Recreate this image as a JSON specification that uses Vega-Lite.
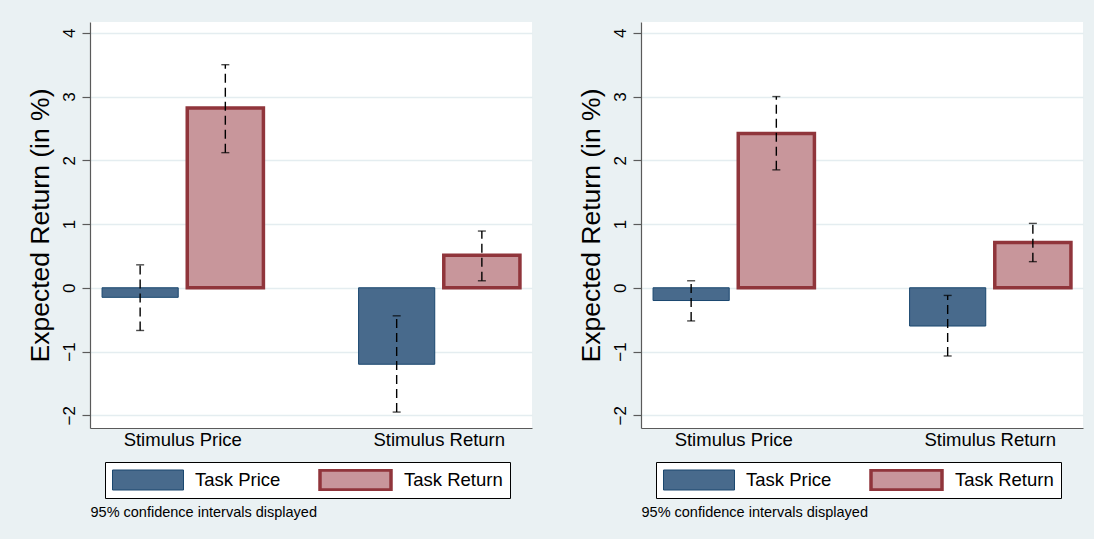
{
  "$schema": "https://vega.github.io/schema/vega-lite/v6.json",
  "background": "#eaf1f3",
  "padding": {"left": 27, "top": 22, "right": 12, "bottom": 20},
  "spacing": 46,
  "datasets": {
    "d": [
      {"panel": "A", "stimulus": "Stimulus Price", "task": "Task Price", "mean": -0.15, "lo": -0.67, "hi": 0.36},
      {"panel": "A", "stimulus": "Stimulus Price", "task": "Task Return", "mean": 2.82, "lo": 2.12, "hi": 3.50},
      {"panel": "A", "stimulus": "Stimulus Return", "task": "Task Price", "mean": -1.20, "lo": -1.95, "hi": -0.44},
      {"panel": "A", "stimulus": "Stimulus Return", "task": "Task Return", "mean": 0.51, "lo": 0.11, "hi": 0.89},
      {"panel": "B", "stimulus": "Stimulus Price", "task": "Task Price", "mean": -0.20, "lo": -0.52, "hi": 0.11},
      {"panel": "B", "stimulus": "Stimulus Price", "task": "Task Return", "mean": 2.42, "lo": 1.85, "hi": 3.00},
      {"panel": "B", "stimulus": "Stimulus Return", "task": "Task Price", "mean": -0.60, "lo": -1.07, "hi": -0.12},
      {"panel": "B", "stimulus": "Stimulus Return", "task": "Task Return", "mean": 0.71, "lo": 0.41, "hi": 1.01}
    ]
  },
  "hconcat": [
    {
      "width": 442, "height": 406,
      "data": {"name": "d"},
      "transform": [{"filter": "datum.panel == 'A'"}],
      "layer": [
        {
          "mark": {"type": "bar"},
          "encoding": {
            "x": {"field": "stimulus", "type": "nominal", "title": "95% confidence intervals displayed", "scale": {"paddingInner": 0.371, "paddingOuter": 0.047}},
            "xOffset": {"field": "task", "type": "nominal", "scale": {"paddingInner": 0.106, "paddingOuter": 0}},
            "y": {"field": "mean", "type": "quantitative", "title": "Expected Return (in %)", "scale": {"domain": [-2.2, 4.17], "nice": false, "zero": false}, "axis": {"values": [-2, -1, 0, 1, 2, 3, 4], "format": "d"}},
            "fill": {"field": "task", "type": "nominal", "scale": {"domain": ["Task Price", "Task Return"], "range": ["#486a8c", "#c8969b"]}, "legend": {"title": null, "orient": "none", "legendX": 15, "legendY": 440, "direction": "horizontal"}},
            "stroke": {"field": "task", "type": "nominal", "scale": {"domain": ["Task Price", "Task Return"], "range": ["#1a476f", "#90353b"]}, "legend": {"title": null, "orient": "none", "legendX": 15, "legendY": 440, "direction": "horizontal"}},
            "strokeWidth": {"field": "task", "type": "nominal", "scale": {"domain": ["Task Price", "Task Return"], "range": [1, 3.5]}, "legend": {"title": null, "orient": "none", "legendX": 15, "legendY": 440, "direction": "horizontal"}}
          }
        },
        {
          "mark": {"type": "rule", "color": "black", "strokeWidth": 1.4, "strokeDash": [9, 5]},
          "encoding": {
            "x": {"field": "stimulus", "type": "nominal", "title": "95% confidence intervals displayed"},
            "xOffset": {"field": "task", "type": "nominal"},
            "y": {"field": "lo", "type": "quantitative", "title": "Expected Return (in %)", "axis": {"values": [-2, -1, 0, 1, 2, 3, 4], "format": "d"}},
            "y2": {"field": "hi"}
          }
        },
        {
          "mark": {"type": "tick", "color": "black", "size": 8, "thickness": 1.4},
          "encoding": {
            "x": {"field": "stimulus", "type": "nominal", "title": "95% confidence intervals displayed"},
            "xOffset": {"field": "task", "type": "nominal"},
            "y": {"field": "hi", "type": "quantitative", "title": "Expected Return (in %)", "axis": {"values": [-2, -1, 0, 1, 2, 3, 4], "format": "d"}}
          }
        },
        {
          "mark": {"type": "tick", "color": "black", "size": 8, "thickness": 1.4},
          "encoding": {
            "x": {"field": "stimulus", "type": "nominal", "title": "95% confidence intervals displayed"},
            "xOffset": {"field": "task", "type": "nominal"},
            "y": {"field": "lo", "type": "quantitative", "title": "Expected Return (in %)", "axis": {"values": [-2, -1, 0, 1, 2, 3, 4], "format": "d"}}
          }
        }
      ]
    },
    {
      "width": 442, "height": 406,
      "data": {"name": "d"},
      "transform": [{"filter": "datum.panel == 'B'"}],
      "layer": [
        {
          "mark": {"type": "bar"},
          "encoding": {
            "x": {"field": "stimulus", "type": "nominal", "title": "95% confidence intervals displayed", "scale": {"paddingInner": 0.371, "paddingOuter": 0.047}},
            "xOffset": {"field": "task", "type": "nominal", "scale": {"paddingInner": 0.106, "paddingOuter": 0}},
            "y": {"field": "mean", "type": "quantitative", "title": "Expected Return (in %)", "scale": {"domain": [-2.2, 4.17], "nice": false, "zero": false}, "axis": {"values": [-2, -1, 0, 1, 2, 3, 4], "format": "d"}},
            "fill": {"field": "task", "type": "nominal", "scale": {"domain": ["Task Price", "Task Return"], "range": ["#486a8c", "#c8969b"]}, "legend": {"title": null, "orient": "none", "legendX": 15, "legendY": 440, "direction": "horizontal"}},
            "stroke": {"field": "task", "type": "nominal", "scale": {"domain": ["Task Price", "Task Return"], "range": ["#1a476f", "#90353b"]}, "legend": {"title": null, "orient": "none", "legendX": 15, "legendY": 440, "direction": "horizontal"}},
            "strokeWidth": {"field": "task", "type": "nominal", "scale": {"domain": ["Task Price", "Task Return"], "range": [1, 3.5]}, "legend": {"title": null, "orient": "none", "legendX": 15, "legendY": 440, "direction": "horizontal"}}
          }
        },
        {
          "mark": {"type": "rule", "color": "black", "strokeWidth": 1.4, "strokeDash": [9, 5]},
          "encoding": {
            "x": {"field": "stimulus", "type": "nominal", "title": "95% confidence intervals displayed"},
            "xOffset": {"field": "task", "type": "nominal"},
            "y": {"field": "lo", "type": "quantitative", "title": "Expected Return (in %)", "axis": {"values": [-2, -1, 0, 1, 2, 3, 4], "format": "d"}},
            "y2": {"field": "hi"}
          }
        },
        {
          "mark": {"type": "tick", "color": "black", "size": 8, "thickness": 1.4},
          "encoding": {
            "x": {"field": "stimulus", "type": "nominal", "title": "95% confidence intervals displayed"},
            "xOffset": {"field": "task", "type": "nominal"},
            "y": {"field": "hi", "type": "quantitative", "title": "Expected Return (in %)", "axis": {"values": [-2, -1, 0, 1, 2, 3, 4], "format": "d"}}
          }
        },
        {
          "mark": {"type": "tick", "color": "black", "size": 8, "thickness": 1.4},
          "encoding": {
            "x": {"field": "stimulus", "type": "nominal", "title": "95% confidence intervals displayed"},
            "xOffset": {"field": "task", "type": "nominal"},
            "y": {"field": "lo", "type": "quantitative", "title": "Expected Return (in %)", "axis": {"values": [-2, -1, 0, 1, 2, 3, 4], "format": "d"}}
          }
        }
      ]
    }
  ],
  "resolve": {"scale": {"x": "independent", "y": "independent", "fill": "independent", "stroke": "independent", "strokeWidth": "independent"}, "legend": {"fill": "independent", "stroke": "independent", "strokeWidth": "independent"}},
  "config": {
    "font": "Liberation Sans",
    "view": {"fill": "white", "stroke": null},
    "axisX": {
      "titleAnchor": "start", "titleAlign": "left", "titleFontSize": 14.5, "titleFontWeight": "normal", "titleColor": "black", "titlePadding": 57,
      "labelFontSize": 18.5, "labelColor": "black", "labelAngle": 0, "labelPadding": 2, "ticks": false, "grid": false,
      "domainColor": "#5a5a5a", "domainWidth": 1.2
    },
    "axisY": {
      "titleFontSize": 26.5, "titleFontWeight": "normal", "titleColor": "black", "titlePadding": 6,
      "labelFontSize": 17, "labelColor": "black", "labelAngle": 270, "labelAlign": "center", "labelBaseline": "bottom", "labelPadding": 4,
      "tickSize": 8, "tickColor": "#5a5a5a", "tickWidth": 1.2, "domainColor": "#5a5a5a", "domainWidth": 1.2,
      "grid": true, "gridColor": "#e4edf0", "gridWidth": 1.5
    },
    "legend": {
      "symbolType": "M-1,-1H6.1V1H-1Z", "symbolSize": 400, "labelFontSize": 18.5, "labelColor": "black", "labelOffset": 62,
      "columnPadding": 37, "padding": 7, "clipHeight": 22, "strokeColor": "black", "fillColor": "white", "symbolOpacity": 1
    }
  }
}
